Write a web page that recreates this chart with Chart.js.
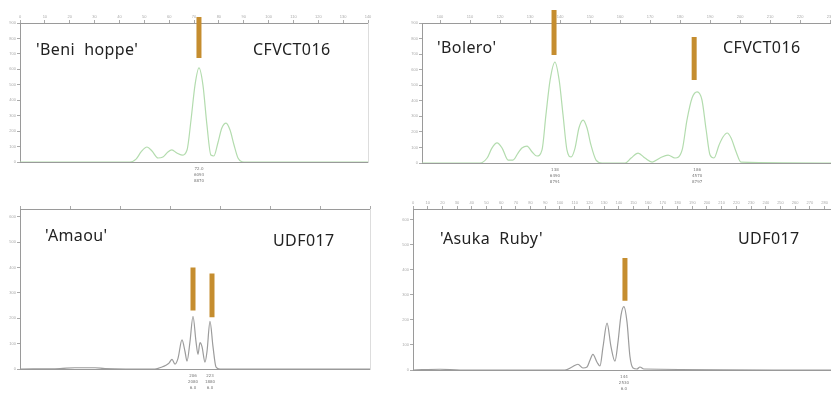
<!DOCTYPE html>
<html>
<head>
<meta charset="utf-8">
<script src="https://cdn.jsdelivr.net/npm/chart.js@4.4.1/dist/chart.umd.min.js"></script>
<style>
  body { margin: 0; width: 831px; height: 396px; overflow: hidden; background: #fff; position: relative; }
  canvas { position: absolute; }
  .lbl { position: absolute; font-family: "Noto Sans", sans-serif; font-size: 16px; letter-spacing: 0.4px; color: #222; white-space: pre; line-height: 1; }
</style>
</head>
<body>
<canvas id="beniChart" width="380" height="196" style="left:0px;top:0px"></canvas>
<canvas id="boleroChart" width="445" height="196" style="left:400px;top:0px"></canvas>
<canvas id="amaouChart" width="380" height="200" style="left:0px;top:196px"></canvas>
<canvas id="asukaChart" width="445" height="200" style="left:400px;top:196px"></canvas>

<div class="lbl" style="left:36px;top:41px">'Beni  hoppe'</div>
<div class="lbl" style="left:253px;top:41px">CFVCT016</div>
<div class="lbl" style="left:437px;top:39px">'Bolero'</div>
<div class="lbl" style="left:723px;top:39px">CFVCT016</div>
<div class="lbl" style="left:45px;top:227px">'Amaou'</div>
<div class="lbl" style="left:273px;top:232px">UDF017</div>
<div class="lbl" style="left:440px;top:230px">'Asuka  Ruby'</div>
<div class="lbl" style="left:738px;top:230px">UDF017</div>

<script>
// 'Beni hoppe' - CFVCT016 (green trace)
const beniX = [0, 44.2, 46.7, 48.7, 51.1, 53.1, 55.5, 57.5, 59.5, 61.1, 63.1, 65.2, 67.2, 68.8, 70.4, 72.0, 73.6, 75.2, 76.8, 78.0, 79.6, 81.2, 82.9, 84.5, 86.1, 87.7, 90.1, 140];
const beniY = [0, 0, 19, 65, 97, 71, 26, 32, 65, 78, 58, 45, 78, 272, 498, 609, 498, 240, 45, 39, 123, 220, 252, 207, 110, 26, 0, 0];
const beniArrows = [[72.0, 939, 673]];
const beniPeaks = [[72.0, ["72.0", "6093", "8870"]]];

// 'Bolero' - CFVCT016 (green trace)
const boleroX = [94, 113.3, 115.7, 117.3, 119, 120.7, 122.7, 124.3, 126, 127.3, 129, 130.7, 132.3, 134, 135.3, 136.7, 138.3, 139.7, 141, 142.3, 143.7, 145, 146.3, 147.7, 149, 150.3, 152, 154, 161.7, 163.7, 166, 168.3, 170.7, 173.3, 176, 178.3, 180.7, 182.3, 184, 185.7, 187.3, 188.7, 190, 191.3, 193, 194.3, 195.7, 197, 198.7, 200.3, 233.3];
const boleroY = [0, 0, 32, 96, 129, 96, 19, 19, 64, 96, 109, 71, 45, 84, 309, 534, 649, 534, 309, 84, 39, 96, 225, 276, 225, 116, 19, 0, 0, 32, 64, 32, 6, 32, 51, 32, 84, 276, 418, 457, 405, 212, 51, 32, 116, 167, 193, 161, 71, 6, 0];
const boleroArrows = [[138.0, 983, 694], [184.7, 810, 534]];
const boleroPeaks = [[138.3, ["138", "6490", "8791"]], [185.7, ["186", "4570", "8797"]]];

// 'Amaou' - UDF017 (grey trace)
const amaouX = [33, 73, 88, 108, 118, 168, 175, 179, 182, 185, 188, 191, 195, 198, 200, 203, 206, 209, 211, 213, 215, 218, 220, 223, 226, 229, 233, 383];
const amaouY = [0, 2, 5, 5, 2, 0, 8, 15, 23, 38, 19, 42, 115, 69, 31, 108, 208, 108, 58, 104, 88, 27, 69, 188, 88, 8, 0, 0];
const amaouArrows = [[206, 400, 231], [225, 377, 204]];
const amaouPeaks = [[206, ["206", "2080", "6.0"]], [223, ["223", "1880", "6.0"]]];

// 'Asuka Ruby' - UDF017 (grey trace)
const asukaX = [0, 18.4, 32, 103.4, 108.2, 112.2, 115.6, 118.4, 120.4, 122.4, 125.2, 127.2, 129.3, 132, 134.7, 137.4, 139.5, 141.5, 143.5, 145.6, 147.6, 149.7, 152.4, 154.4, 157.1, 290.5];
const asukaY = [0, 3, 0, 0, 12, 23, 8, 12, 39, 62, 31, 16, 93, 187, 93, 35, 113, 218, 253, 191, 54, 8, 4, 12, 4, 0];
const asukaArrows = [[144.2, 447, 276]];
const asukaPeaks = [[143.5, ["144", "2530", "6.0"]]];

const axisGrey = "#9a9a9a";
const tickGrey = "#aaaaaa";

// small three-line labels under the called peaks
const peakTextPlugin = {
  id: "peakText",
  afterDraw(chart, args, opts) {
    const ctx = chart.ctx;
    const x = chart.scales.x;
    const bottom = chart.chartArea.bottom;
    ctx.save();
    ctx.font = "4px 'DejaVu Sans'";
    ctx.fillStyle = "#777";
    ctx.textAlign = "center";
    ctx.textBaseline = "top";
    (opts.items || []).forEach((p) => {
      const px = x.getPixelForValue(p[0]);
      p[1].forEach((t, i) => ctx.fillText(t, px, bottom + 5 + i * 6));
    });
    ctx.restore();
  },
};

function toPoints(xs, ys) {
  return xs.map((x, i) => ({ x: x, y: ys[i] }));
}

function makePanel(id, cfg) {
  const ctx = document.getElementById(id).getContext("2d");
  const datasets = [
    {
      data: toPoints(cfg.xs, cfg.ys),
      borderColor: cfg.color,
      borderWidth: 1.2,
      pointRadius: 0,
      cubicInterpolationMode: "monotone",
      xAxisID: "x",
      yAxisID: "y",
    },
  ];
  cfg.arrows.forEach((a) => {
    datasets.push({
      data: [{ x: a[0], y: a[1] }, { x: a[0], y: a[2] }],
      borderColor: "#c58d2f",
      borderWidth: 5,
      pointRadius: 0,
      clip: false,
      xAxisID: "x",
      yAxisID: "y",
    });
  });

  return new Chart(ctx, {
    type: "line",
    data: { datasets: datasets },
    plugins: [peakTextPlugin],
    options: {
      responsive: false,
      animation: false,
      devicePixelRatio: 1,
      layout: { padding: cfg.pad },
      plugins: {
        legend: { display: false },
        tooltip: { enabled: false },
        peakText: { items: cfg.peaks },
      },
      scales: {
        x: {
          type: "linear",
          position: "top",
          min: cfg.xMin,
          max: cfg.xMax,
          ticks: {
            stepSize: cfg.xStep,
            font: { size: 4 },
            color: tickGrey,
            padding: 1,
            maxRotation: 0,
            autoSkip: false,
            includeBounds: false,
            callback: cfg.xLabel || ((v) => v),
          },
          grid: { display: true, drawOnChartArea: false, tickLength: 3, color: tickGrey },
          border: { color: axisGrey },
          afterFit: (s) => { s.height = cfg.top; },
        },
        y: {
          min: 0,
          max: cfg.yMax,
          ticks: { stepSize: 100, font: { size: 4 }, color: tickGrey, padding: 1, includeBounds: false },
          grid: { display: true, drawOnChartArea: false, tickLength: 3, color: tickGrey },
          border: { color: axisGrey },
          afterFit: (s) => { s.width = cfg.left; },
        },
        x2: {
          type: "linear",
          position: "bottom",
          min: cfg.xMin,
          max: cfg.xMax,
          ticks: { display: false },
          grid: { display: false },
          border: { color: axisGrey },
          afterFit: (s) => { s.height = 0; },
        },
        y2: {
          position: "right",
          min: 0,
          max: cfg.yMax,
          ticks: { display: false },
          grid: { display: false },
          border: { color: "#dddddd" },
          afterFit: (s) => { s.width = 0; },
        },
      },
    },
  });
}

makePanel("beniChart", {
  xs: beniX, ys: beniY, color: "#b3dcae", arrows: beniArrows, peaks: beniPeaks,
  xMin: 0, xMax: 140, xStep: 10, yMax: 900,
  left: 20, top: 23, pad: { left: 0, top: 0, right: 12, bottom: 34 },
});

makePanel("boleroChart", {
  xs: boleroX, ys: boleroY, color: "#b3dcae", arrows: boleroArrows, peaks: boleroPeaks,
  xMin: 94, xMax: 233.3, xStep: 10, yMax: 900,
  left: 22, top: 23, pad: { left: 0, top: 0, right: 5, bottom: 33 },
});

makePanel("amaouChart", {
  xs: amaouX, ys: amaouY, color: "#9c9c9c", arrows: amaouArrows, peaks: amaouPeaks,
  xMin: 33, xMax: 383, xStep: 50, yMax: 631,
  xLabel: (v) => (v % 100 === 0 ? v : ""),
  left: 20, top: 13, pad: { left: 0, top: 0, right: 10, bottom: 27 },
});

makePanel("asukaChart", {
  xs: asukaX, ys: asukaY, color: "#9c9c9c", arrows: asukaArrows, peaks: asukaPeaks,
  xMin: 0, xMax: 290.5, xStep: 10, yMax: 642,
  left: 13, top: 13, pad: { left: 0, top: 0, right: 5, bottom: 26 },
});
</script>
</body>
</html>
